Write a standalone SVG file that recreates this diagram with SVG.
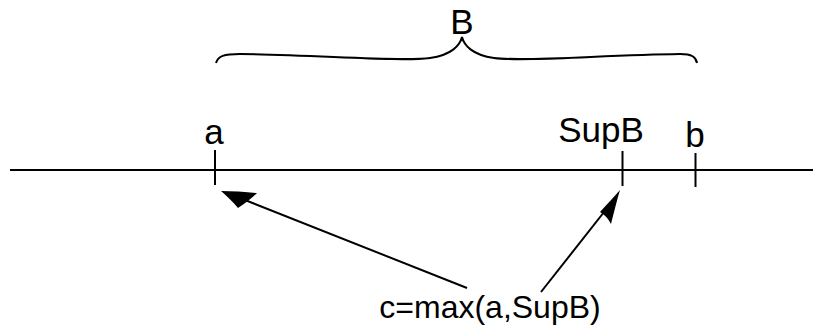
<svg xmlns="http://www.w3.org/2000/svg" width="813" height="328" viewBox="0 0 813 328">
<style>
.ln{stroke:#000;stroke-width:2;fill:none}
.t{font-family:"Liberation Sans",Arial,sans-serif;font-size:32px;fill:#000;text-anchor:middle}
.l{font-size:35px}
.ah{fill:#000;stroke:none}
</style>
<rect width="813" height="328" fill="#fff"/>
<g id="axis">
<line class="ln" x1="10" y1="170" x2="813" y2="170"/>
</g>
<g id="brace">
<path class="ln" d="M216,63 C218,56 224,54 240,54 C320,55 400,62 430,58 C452,55 460,45 462,37 C464,45 472,55 494,58 C524,62 604,55 680,54 C692,54 696,57 697,63"/>
<text class="t l" x="462" y="34">B</text>
</g>
<g id="a">
<line class="ln" x1="215" y1="150" x2="215" y2="185"/>
<text class="t l" x="214" y="144">a</text>
</g>
<g id="supB">
<line class="ln" x1="622.5" y1="151" x2="622.5" y2="186"/>
<text class="t l" x="601" y="142">SupB</text>
</g>
<g id="b">
<line class="ln" x1="695.5" y1="153" x2="695.5" y2="187"/>
<text class="t l" x="695" y="147">b</text>
</g>
<g id="c">
<text class="t" x="490" y="318">c=max(a,SupB)</text>
</g>
<g id="connectors">
<line class="ln" x1="467" y1="288" x2="245" y2="200"/>
<path class="ah" d="M221,191 C232,191 246,192 257,193 Q250,200 238,208 C233,202 227,196 221,191 Z"/>
<line class="ln" x1="541" y1="292" x2="608" y2="207"/>
<path class="ah" d="M620,190 C617,200 614,212 611,224 Q607,216 600,212 C607,204 614,197 620,190 Z"/>
</g>
</svg>
